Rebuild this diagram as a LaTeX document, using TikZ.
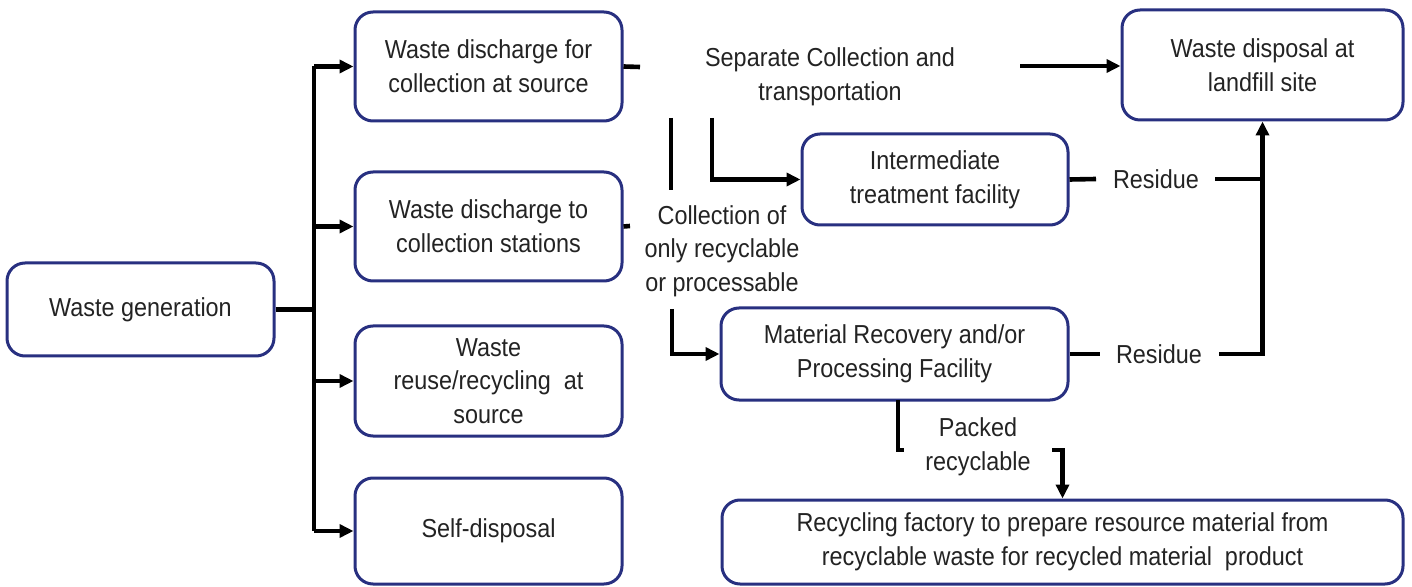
\documentclass[tikz,border=0pt]{standalone}
\usepackage{fontspec}
\setmainfont{Liberation Sans}[FakeStretch=0.9]
\usetikzlibrary{arrows.meta,calc}
\definecolor{boxblue}{RGB}{40,48,128}
\definecolor{textgray}{RGB}{35,35,35}
\tikzset{
  box/.style={draw=boxblue, line width=1.5pt, rounded corners=9pt, align=center,
    inner sep=0pt, text=textgray, fill=white},
  lbl/.style={align=center, inner sep=0pt, text=textgray},
  conn/.style={line width=2.3pt, draw=black},
  arr/.style={conn, -{Triangle[length=7pt,width=6.5pt]}},
}
\begin{document}
\begin{tikzpicture}[x=0.5pt,y=-0.5pt, font=\fontsize{13}{16.8}\selectfont]
\useasboundingbox (0,0) rectangle (1412,587);

% boxes
\node[box, minimum width=133.5pt, minimum height=46.5pt] (gen) at (140.5,309.5) {Waste generation};
\node[box, minimum width=133.5pt, minimum height=54.5pt] (b1) at (488.5,66.5) {Waste discharge for\\collection at source};
\node[box, minimum width=133.5pt, minimum height=54.5pt] (b2) at (488.5,226.5) {Waste discharge to\\collection stations};
\node[box, minimum width=133.5pt, minimum height=55pt] (b3) at (488.5,381) {Waste\\reuse/recycling\ \ at\\source};
\node[box, minimum width=133.5pt, minimum height=53pt] (b4) at (488.5,531) {Self-disposal};
\node[box, minimum width=140.5pt, minimum height=55pt] (land) at (1262.5,65) {Waste disposal at\\landfill site};
\node[box, minimum width=133pt, minimum height=45.5pt] (inter) at (935,179.5) {Intermediate\\treatment facility};
\node[box, minimum width=173.5pt, minimum height=46pt] (mrf) at (894.5,354) {Material Recovery and/or\\Processing Facility};
\node[box, minimum width=340.5pt, minimum height=42pt] (fact) at (1062.5,542) {Recycling factory to prepare resource material from\\recyclable waste for recycled material\ \ product};

% labels
\node[lbl] (sep) at (830,77) {Separate Collection and\\transportation};
\node[lbl] (coll) at (722,251) {Collection of\\only recyclable\\or processable};
\node[lbl] (res1) at (1156,179) {Residue};
\node[lbl] (res2) at (1159,354) {Residue};
\node[lbl] (pack) at (978,447) {Packed\\recyclable};

% coordinates
\coordinate (trunk) at (314,309.5);
\coordinate (s1) at (640,67);
\coordinate (s2) at (630,226);
\coordinate (v1a) at (671,118);
\coordinate (v1b) at (671,190);
\coordinate (v2a) at (712,118);
\coordinate (v3a) at (672,309);
\coordinate (l1) at (1020,66);
\coordinate (r1a) at (1096,179);
\coordinate (r1b) at (1215,179);
\coordinate (r2a) at (1100,354);
\coordinate (r2b) at (1219,354);
\coordinate (rv) at (1262.5,354);
\coordinate (p1) at (898,400);
\coordinate (p2) at (898,450);
\coordinate (p3) at (904,450);
\coordinate (p4) at (1052,450);
\coordinate (p5) at (1062.5,450);

% left tree
\draw[conn] (gen.east) -- (trunk);
\draw[conn] (b1.west -| trunk) -- (b4.west -| trunk);
\draw[arr] (b1.west -| trunk) -- (b1.west);
\draw[arr] (b2.west -| trunk) -- (b2.west);
\draw[arr] (b3.west -| trunk) -- (b3.west);
\draw[arr] (b4.west -| trunk) -- (b4.west);

% middle
\draw[conn] (b1.east) -- (s1);
\draw[conn] (b2.east) -- (s2);
\draw[conn] (v1a) -- (v1b);
\draw[arr] (v2a) |- (inter.west);
\draw[arr] (v3a) |- (mrf.west);
\draw[arr] (l1) -- (land.west |- l1);

% residues
\draw[conn] (inter.east) -- (r1a);
\draw[conn] (r1b) -- (r1b -| rv);
\draw[conn] (mrf.east) -- (r2a);
\draw[arr] (r2b) -- (rv) -- (land.south);

% packed
\draw[conn] (p1) -- (p2) -- (p3);
\draw[arr] (p4) -- (p5) -- (fact.north);
\end{tikzpicture}
\end{document}
